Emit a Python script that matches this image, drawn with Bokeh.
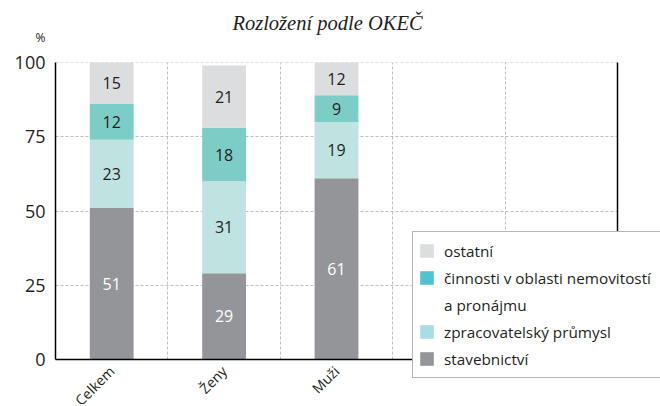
from bokeh.plotting import figure
from bokeh.models import (ColumnDataSource, FixedTicker, Legend, LegendItem,
                          LinearAxis, Range1d, Label, BoxAnnotation)
from bokeh.core.properties import value
from bokeh.embed import file_html
from bokeh.resources import INLINE
import math

# ---- data ----
categories = ["Celkem", "Ženy", "Muži"]
stavebnictvi = [51, 29, 61]
zpracovatelsky = [23, 31, 19]
cinnosti = [12, 18, 9]
ostatni = [15, 21, 12]
series_names = ["stavebnictví", "zpracovatelský průmysl",
                "činnosti v oblasti nemovitostí", "ostatní"]
series_name_cont = "a pronájmu"   # second legend line of series 3
y_ticks = [0, 25, 50, 75, 100]
y_max = 100
n_slots = 5
title_text = "Rozložení podle OKEČ"
unit_text = "%"

# ---- styles / layout (pixels) ----
bar_colors = ["#939598", "#bfe3e0", "#7ccdc5", "#dcdddf"]
legend_colors = ["#939598", "#a9dde5", "#4fc4d0", "#dcdddf"]
label_colors = ["white", "#231f20", "#231f20", "#231f20"]
FONT = "Open Sans"
DARK = "#231f20"
W, H = 660, 404
PX_LEFT, PX_RIGHT = 55, 617     # pixel x of slot 0 and slot n_slots
PX_TOP, PX_BOTTOM = 62, 359     # pixel y of 100 and 0
ux = (PX_RIGHT - PX_LEFT) / n_slots
uy = (PX_BOTTOM - PX_TOP) / y_max
x_range = Range1d(-PX_LEFT / ux, (W - PX_LEFT) / ux)
y_range = Range1d(-(H - PX_BOTTOM) / uy, y_max + PX_TOP / uy)

series = [stavebnictvi, zpracovatelsky, cinnosti, ostatni]
xs = [i + 0.5 for i in range(len(categories))]

p = figure(width=W, height=H, x_range=x_range, y_range=y_range,
           output_backend="svg", toolbar_location=None,
           min_border_left=0, min_border_right=0, min_border_top=0,
           min_border_bottom=0, background_fill_color="white",
           border_fill_color="white")
p.outline_line_color = None
p.title.visible = False

# grids
p.xgrid.ticker = FixedTicker(ticks=list(range(1, n_slots)))
p.ygrid.ticker = FixedTicker(ticks=y_ticks[1:])
for g in (p.xgrid, p.ygrid):
    g.grid_line_color = "#bcbec0"
    g.grid_line_dash = "3 2"
    g.grid_line_width = 1
# keep grid lines inside the 0..n_slots x 0..100 area
for kw in (dict(top=0), dict(bottom=y_max), dict(left=n_slots), dict(right=0)):
    p.add_layout(BoxAnnotation(fill_color="white", fill_alpha=1, line_color=None,
                               level="underlay", **kw))

# stacked bars, clipped at the axis maximum
cum = [0] * len(categories)
for si, (vals, col, tcol) in enumerate(zip(series, bar_colors, label_colors)):
    bottoms = list(cum)
    tops = [min(b + v, y_max) for b, v in zip(bottoms, vals)]
    cum = [b + v for b, v in zip(cum, vals)]
    src = ColumnDataSource(dict(x=xs, bottom=bottoms, top=tops,
                                mid=[(b + t) / 2 for b, t in zip(bottoms, tops)],
                                lab=[str(v) for v in vals]))
    p.vbar(x="x", bottom="bottom", top="top", width=0.39, source=src,
           fill_color=col, line_color=None)
    p.text(x="x", y="mid", text="lab", source=src, text_align="center",
           text_baseline="middle", text_font=value(FONT), text_font_size="16px",
           text_color=tcol)

# axes
p.xaxis.fixed_location = 0
p.xaxis.bounds = (0, n_slots)
p.xaxis.ticker = FixedTicker(ticks=xs)
p.xaxis.major_label_overrides = {x: c for x, c in zip(xs, categories)}
p.xaxis.major_label_orientation = math.pi / 4
p.xaxis.major_label_text_font = FONT
p.xaxis.major_label_text_font_size = "14px"
p.xaxis.major_label_text_color = DARK
p.xaxis.major_tick_line_color = None
p.xaxis.minor_tick_line_color = None
p.xaxis.axis_line_color = "black"
p.xaxis.axis_line_width = 1.5
p.xaxis.major_label_standoff = 3

p.yaxis.fixed_location = 0
p.yaxis.bounds = (0, y_max)
p.yaxis.ticker = FixedTicker(ticks=y_ticks)
p.yaxis.major_label_text_font = FONT
p.yaxis.major_label_text_font_size = "18px"
p.yaxis.major_label_text_color = DARK
p.yaxis.major_tick_line_color = None
p.yaxis.minor_tick_line_color = None
p.yaxis.axis_line_color = "black"
p.yaxis.axis_line_width = 1.5
p.yaxis.major_label_standoff = 4

right = LinearAxis(ticker=FixedTicker(ticks=[]), major_label_text_font_size="0px",
                   axis_line_color="black", axis_line_width=1.5, bounds=(0, y_max),
                   fixed_location=n_slots,
                   major_tick_line_color=None, minor_tick_line_color=None)
p.add_layout(right, "right")

# title and unit
p.add_layout(Label(x=327, y=H - 22, x_units="screen", y_units="screen",
                   text=title_text, text_font="Liberation Serif",
                   text_font_style="italic", text_font_size="20.5px",
                   text_color=DARK, text_align="center", text_baseline="middle"))
p.add_layout(Label(x=40, y=H - 37, x_units="screen", y_units="screen",
                   text=unit_text, text_font=FONT, text_font_size="12px",
                   text_color=DARK, text_align="center", text_baseline="middle"))

# legend with its own swatch colours (top to bottom)
items = []
for name, col in reversed(list(zip(series_names, legend_colors))):
    r = p.vbar(x=xs[:1], bottom=[0], top=[0], width=0.01, color=col, line_color=None)
    items.append(LegendItem(label=name, renderers=[r]))
    if name == series_names[2]:
        r2 = p.vbar(x=xs[:1], bottom=[0], top=[0], width=0.01, fill_alpha=0,
                    line_color=None)
        items.append(LegendItem(label=series_name_cont, renderers=[r2]))
legend = Legend(items=items, location=(412, H - 378), label_text_font=FONT,
                label_text_font_size="15.3px", label_text_color=DARK,
                glyph_width=17, glyph_height=17, label_standoff=9,
                padding=5, margin=0, spacing=0, label_height=27, label_width=230,
                border_line_color="#6d6e71", border_line_width=1.5,
                background_fill_color="white", background_fill_alpha=1)
p.add_layout(legend)

open("out.html", "w").write(file_html(p, INLINE))
